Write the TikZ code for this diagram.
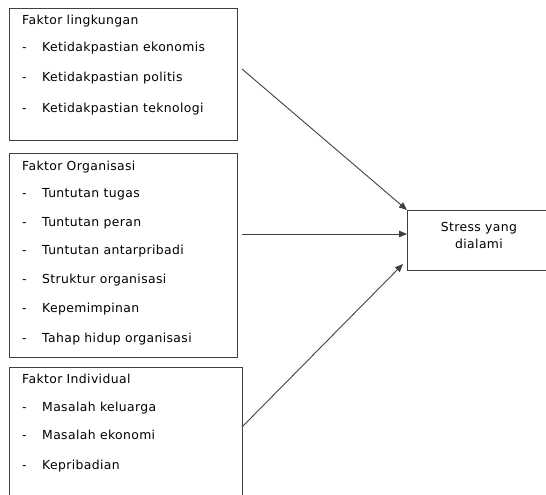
\documentclass[tikz,border=0pt]{standalone}
\usepackage{fontspec}
\setmainfont{DejaVu Sans}[LetterSpace=3]
\usetikzlibrary{arrows.meta}
\definecolor{ln}{HTML}{404040}
\begin{document}
\begin{tikzpicture}[x=1pt,y=-1pt,
  box/.style={draw=ln,line width=1pt,inner sep=0pt,anchor=north west},
  txt/.style={anchor=west,inner sep=0pt,text height=9.5pt,text depth=2.5pt,font=\fontsize{12.4}{14}\selectfont,text=black},
  conn/.style={draw=ln,line width=0.9pt,-{Triangle[length=8pt,width=6.5pt]}}]
\useasboundingbox (0,0) rectangle (546,495);
\clip (0,0) rectangle (546,495);
% boxes
\node[box,minimum width=228pt,minimum height=132pt] (b1) at (9,8) {};
\node[box,minimum width=228pt,minimum height=204pt] (b2) at (9,153) {};
\node[box,minimum width=233pt,minimum height=140pt] (b3) at (9,367) {};
\node[box,minimum width=160pt,minimum height=60pt] (s) at (407,210) {};
% box 1 texts
\node[txt] (h1) at (22,21) {Faktor lingkungan};
\node[txt] (d11) at (22,48) {-};
\node[txt] (t11) at (42,48) {Ketidakpastian ekonomis};
\node[txt] (d12) at (22,78) {-};
\node[txt] (t12) at (42,78) {Ketidakpastian politis};
\node[txt] (d13) at (22,109) {-};
\node[txt] (t13) at (42,109) {Ketidakpastian teknologi};
% box 2 texts
\node[txt] (h2) at (22,167) {Faktor Organisasi};
\node[txt] (d21) at (22,194) {-};
\node[txt] (t21) at (42,194) {Tuntutan tugas};
\node[txt] (d22) at (22,223) {-};
\node[txt] (t22) at (42,223) {Tuntutan peran};
\node[txt] (d23) at (22,251) {-};
\node[txt] (t23) at (42,251) {Tuntutan antarpribadi};
\node[txt] (d24) at (22,280) {-};
\node[txt] (t24) at (42,280) {Struktur organisasi};
\node[txt] (d25) at (22,309) {-};
\node[txt] (t25) at (42,309) {Kepemimpinan};
\node[txt] (d26) at (22,339) {-};
\node[txt] (t26) at (42,339) {Tahap hidup organisasi};
% box 3 texts
\node[txt] (h3) at (22,380) {Faktor Individual};
\node[txt] (d31) at (22,408) {-};
\node[txt] (t31) at (42,408) {Masalah keluarga};
\node[txt] (d32) at (22,436) {-};
\node[txt] (t32) at (42,436) {Masalah ekonomi};
\node[txt] (d33) at (22,466) {-};
\node[txt] (t33) at (42,466) {Kepribadian};
% stress text
\node[anchor=center,align=center,inner sep=0pt,font=\fontsize{12.4}{17}\selectfont] (st) at (479,235) {Stress yang\\dialami};
% connectors
\coordinate (a1) at (242,69);
\coordinate (a2) at (242,234);
\coordinate (e2) at (407,234);
\coordinate (a3) at (242,427);
\coordinate (e3) at (403,264);
\draw[conn] (a1) -- (s.north west);
\draw[conn] (a2) -- (e2);
\draw[conn] (a3) -- (e3);
\end{tikzpicture}
\end{document}
